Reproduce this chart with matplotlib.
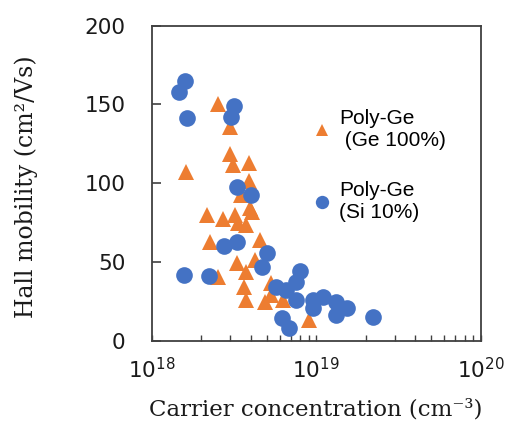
import matplotlib
matplotlib.use('Agg')
import matplotlib.pyplot as plt
import numpy as np

# Poly-Ge (Ge 100%) - triangles
ge_conc = [2.53e18, 2.98e18, 3.01e18, 3.12e18, 3.90e18, 1.61e18, 3.90e18, 3.51e18,
           3.94e18, 4.05e18, 2.17e18, 2.72e18, 3.20e18, 3.35e18, 3.77e18, 2.26e18,
           4.53e18, 3.28e18, 4.23e18, 3.77e18, 2.53e18, 3.63e18, 5.34e18, 3.73e18,
           4.86e18, 5.34e18, 6.28e18, 9.02e18]
ge_mob = [150.6, 135.7, 118.5, 111.6, 113.0, 107.3, 101.4, 92.5,
          84.1, 81.7, 79.8, 77.1, 79.8, 74.5, 73.5, 62.9,
          63.9, 49.1, 51.2, 43.8, 40.6, 34.3, 36.4, 25.8,
          24.8, 29.0, 25.8, 13.1]

# Poly-Ge (Si 10%) - circles
si_conc = [1.59e18, 1.46e18, 1.63e18, 3.15e18, 3.05e18, 3.28e18, 4.04e18, 2.74e18,
           3.30e18, 5.02e18, 4.69e18, 1.57e18, 2.23e18, 5.72e18, 8.00e18, 7.56e18,
           6.58e18, 7.56e18, 9.53e18, 10.96e18, 9.53e18, 13.2e18, 13.2e18, 15.5e18,
           22.0e18, 6.22e18, 6.82e18]
si_mob = [165.1, 158.1, 141.2, 149.0, 142.2, 97.3, 92.2, 60.1,
          62.9, 55.9, 46.6, 41.7, 41.1, 34.4, 44.4, 37.5,
          32.2, 25.8, 25.8, 27.9, 20.6, 24.8, 16.3, 20.6,
          14.9, 14.2, 7.9]

orange = '#ED7D31'
blue = '#4472C4'
dark = '#404040'

fig = plt.figure(figsize=(5.2, 4.23), dpi=100)
ax = fig.add_axes([0.2917, 0.1946, 0.6327, 0.7446])

ax.plot(ge_conc, ge_mob, '^', color=orange, markersize=11, markeredgewidth=0,
        label='Poly-Ge\n (Ge 100%)')
ax.plot(si_conc, si_mob, 'o', color=blue, markersize=12, markeredgewidth=0,
        label='Poly-Ge\n(Si 10%)')

ax.set_xscale('log')
ax.set_xlim(1e18, 1e20)
ax.set_ylim(0, 200)
ax.set_yticks([0, 50, 100, 150, 200])

for s in ax.spines.values():
    s.set_color(dark)
    s.set_linewidth(1.3)

ax.tick_params(axis='both', which='both', direction='in', color=dark, labelcolor='#1a1a1a')
ax.tick_params(axis='y', length=6.5, width=1.2, labelsize=15.5, pad=19)
ax.tick_params(axis='x', which='major', length=4, width=1.0, labelsize=15.5, pad=12)
ax.tick_params(axis='x', which='minor', length=4, width=1.0)
for lab in ax.get_xticklabels() + ax.get_yticklabels():
    lab.set_family('DejaVu Sans')

ax.set_xlabel('Carrier concentration (cm⁻³)', family='DejaVu Serif', fontsize=16.5,
              color='#1a1a1a')
ax.set_ylabel('Hall mobility (cm²/Vs)', family='DejaVu Serif', fontsize=17,
              color='#1a1a1a')
ax.xaxis.set_label_coords(0.5, -0.185)
ax.xaxis.label.set_va('top')
ax.yaxis.set_label_coords(-0.345, 0.49)

ax.legend(loc='upper left', bbox_to_anchor=(0.43, 0.795), frameon=False,
          markerscale=0.8, handlelength=1.0, handletextpad=0.3, labelspacing=1.5,
          prop={'family': 'Liberation Sans', 'size': 15})

fig.savefig('out.png', dpi=100)
